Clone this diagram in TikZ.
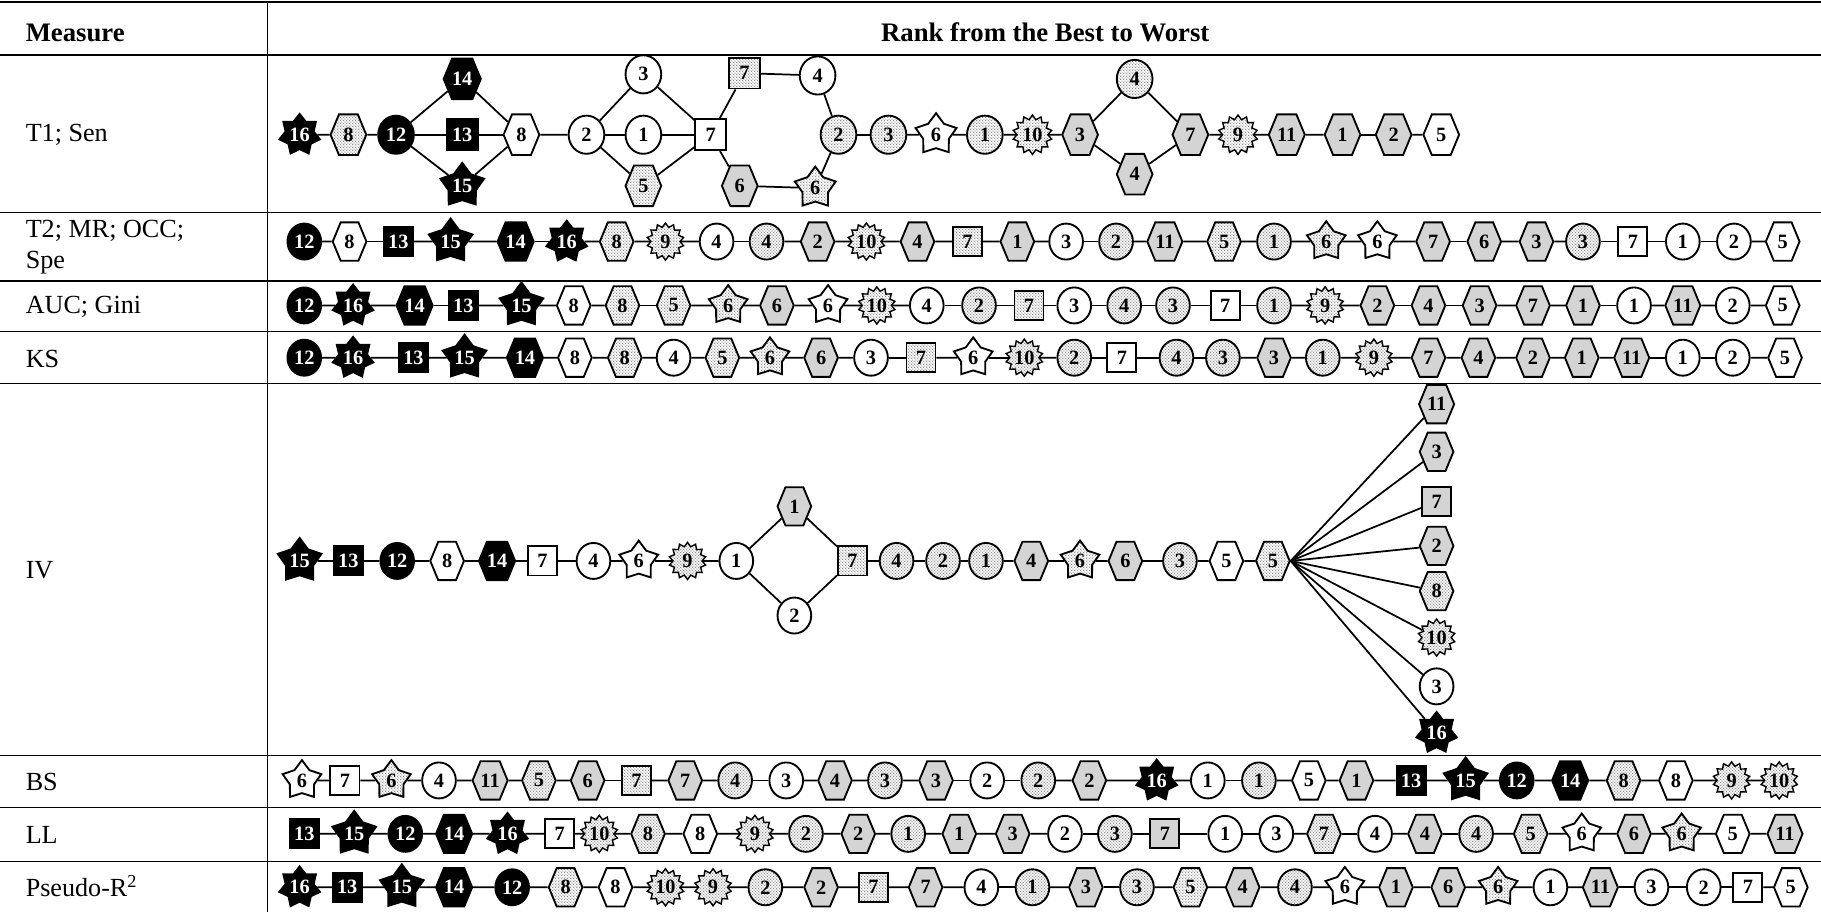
\documentclass[tikz,border=0pt]{standalone}
\usepackage{fontspec}
\setmainfont{Liberation Serif}
\usetikzlibrary{shapes.geometric,shapes.symbols,patterns.meta}

% fine stipple used for the dotted symbols
\tikzdeclarepattern{
  name=stipple,
  type=uncolored,
  bounding box={(0pt,0pt) and (2.4pt,2.4pt)},
  tile size={(2.4pt,2.4pt)},
  code={
    \fill (0.6pt,0.6pt) circle [radius=0.5pt];
    \fill (1.8pt,1.8pt) circle [radius=0.5pt];
  }
}

\def\shpk{1}
\tikzset{
  shp/.style={draw=black, line width=1.6pt, inner sep=0pt, font=\fontsize{17.5}{17.5}\selectfont\bfseries},
  fW/.style={fill=white},
  fG/.style={fill=black!17},
  fD/.style={preaction={fill=white}, pattern=stipple, pattern color=black!62},
  fB/.style={fill=black, text=white},
  circ/.style={shp, ellipse, minimum width=29pt*\shpk, minimum height=31pt*\shpk},
  hexa/.style={shp, signal, signal to=east and west, signal pointer angle=135,
               minimum width=29pt*\shpk, minimum height=33pt*\shpk},
  sqr/.style={shp, rectangle, minimum width=25pt*\shpk, minimum height=25pt*\shpk},
  pent/.style={shp, star, star points=5, star point ratio=1.6, minimum size=35pt*\shpk},
  sept/.style={shp, star, star points=7, star point ratio=1.45, minimum size=33pt*\shpk},
  burst/.style={shp, star, star points=14, star point ratio=1.28, minimum size=32pt*\shpk, line width=1.2pt},
  cW/.style={circ,fW}, cD/.style={circ,fD}, cB/.style={circ,fB},
  hW/.style={hexa,fW}, hD/.style={hexa,fD}, hG/.style={hexa,fG}, hB/.style={hexa,fB},
  sW/.style={sqr,fW}, sD/.style={sqr,fD}, sG/.style={sqr,fG}, sB/.style={sqr,fB},
  pW/.style={pent,fW}, pD/.style={pent,fD}, pB/.style={pent,fB},
  kB/.style={sept,fB}, zD/.style={burst,fD},
  link/.style={draw=black, line width=1.5pt},
  lbl/.style={font=\fontsize{22.5}{27}\selectfont, anchor=west, inner sep=0pt, align=left},
  hdr/.style={font=\fontsize{23}{27}\selectfont\bfseries, inner sep=0pt},
  tabrule/.style={line width=1.1pt},
}

% a straight ranking of 30 symbols, each joined to the next
\newcommand\chainrow[3]{%
  \foreach \qx/\qs/\ql [count=\qk] in {#3} {\node[\qs] (#1\qk) at (\qx,#2) {\ql};}
  \foreach \qk [evaluate=\qk as \qj using int(\qk-1)] in {2,...,30} {\draw[link] (#1\qj) -- (#1\qk);}
}

\begin{document}
\begin{tikzpicture}[x=1pt,y=-1pt]
\useasboundingbox (0,0) rectangle (1568,785);

% ---------- table frame ----------
\draw[line width=2pt] (0,2) -- (1568,2);
\draw[line width=1.3pt] (0,47.5) -- (1568,47.5);
\foreach \ry in {183,242,285.5,330.5,650.5,695.5,741.5}
  {\draw[tabrule] (0,\ry) -- (1568,\ry);}
\draw[line width=1pt] (230,2) -- (230,785);

% ---------- header and row labels ----------
\node[hdr, anchor=west] (hm) at (22,28) {Measure};
\node[hdr] (hr) at (900,28) {Rank from the Best to Worst};
\node[lbl] (l1) at (22,116) {T1; Sen};
\node[lbl] (l2) at (22,213) {T2; MR; OCC;\\Spe};
\node[lbl] (l3) at (22,264) {AUC; Gini};
\node[lbl] (l4) at (22,309) {KS};
\node[lbl] (l5) at (22,491) {IV};
\node[lbl] (l6) at (22,673) {BS};
\node[lbl] (l7) at (22,719) {LL};
\node[lbl] (l8) at (22,763) {Pseudo-R\textsuperscript{2}};

% ---------- T1; Sen ----------
\begin{scope}
\def\shpk{1.06}
\node[kB] (t16) at (258,116) {16};
\node[hD] (t8d) at (300,116) {8};
\node[cB] (t12) at (341,116) {12};
\node[hB] (t14) at (398,68) {14};
\node[sB] (t13) at (398,116) {13};
\node[pB] (t15) at (398,160) {15};
\node[hW] (t8w) at (449,116) {8};
\node[cW] (t2) at (505,116) {2};
\node[cW] (t3) at (554,64) {3};
\node[cW] (t1) at (554,116) {1};
\node[hD] (t5) at (554,160) {5};
\node[sW] (t7) at (612,116) {7};
\node[sD] (t7d) at (641,63) {7};
\node[cW] (t4) at (704,65) {4};
\node[hG] (t6g) at (637,160) {6};
\node[pD] (t6s) at (702,162) {6};
\node[cD] (t2d) at (722,116) {2};
\node[cD] (t3d) at (765,116) {3};
\node[pW] (t6w) at (806,116) {6};
\node[cD] (t1d) at (848,116) {1};
\node[zD] (t10) at (889,116) {10};
\node[hG] (t3g) at (930,116) {3};
\node[cD] (t4d) at (977,68) {4};
\node[hG] (t4g) at (977,150) {4};
\node[hG] (t7g) at (1025,116) {7};
\node[zD] (t9) at (1066,116) {9};
\node[hG] (t11) at (1108,116) {11};
\node[hG] (t1g) at (1156,116) {1};
\node[hG] (t2g) at (1200,116) {2};
\node[hW] (t5w) at (1241,116) {5};
\foreach \ua/\ub in {t16/t8d, t8d/t12, t12/t14, t12/t13, t12/t15, t14/t8w, t13/t8w, t15/t8w,
  t8w/t2, t2/t3, t2/t1, t2/t5, t3/t7, t1/t7, t5/t7, t7/t7d, t7/t6g, t7d/t4, t4/t2d,
  t6g/t6s, t6s/t2d, t2d/t3d, t3d/t6w, t6w/t1d, t1d/t10, t10/t3g, t3g/t4d, t3g/t4g,
  t4d/t7g, t4g/t7g, t7g/t9, t9/t11, t11/t1g, t1g/t2g, t2g/t5w}
  {\draw[link] (\ua) -- (\ub);}
\end{scope}

% ---------- T2; MR; OCC; Spe ----------
\chainrow{a}{208}{262/cB/12, 301/hW/8, 343/sB/13, 388/pB/15, 444/hB/14, 488/kB/16,
  531/hD/8, 573/zD/9, 617/cW/4, 660/cD/4, 704/hG/2, 746/zD/10, 790/hG/4, 833/sD/7,
  876/hG/1, 918/cW/3, 961/cD/2, 1003/hG/11, 1054/hD/5, 1097/cD/1, 1142/pD/6, 1186/pW/6,
  1234/hG/7, 1278/hG/6, 1323/hG/3, 1363/cD/3, 1406/sW/7, 1449/cW/1, 1493/cW/2, 1535/hW/5}

% ---------- AUC; Gini ----------
\chainrow{b}{263}{262/cB/12, 304/kB/16, 357/hB/14, 399/sB/13, 449/pB/15, 494/hW/8,
  536/hD/8, 580/hD/5, 627/pD/6, 669/hG/6, 713/pW/6, 755/zD/10, 798/cW/4, 843/cD/2,
  886/sD/7, 925/cW/3, 968/cD/4, 1010/cD/3, 1055/sW/7, 1097/cD/1, 1141/zD/9, 1186/hG/2,
  1230/hG/4, 1274/hG/3, 1320/hG/7, 1363/hG/1, 1407/cW/1, 1449/hG/11, 1492/cW/2, 1535/hW/5}

% ---------- KS ----------
\chainrow{c}{308}{262/cB/12, 304/kB/16, 356/sB/13, 400/pB/15, 452/hB/14, 495/hW/8,
  538/hD/8, 580/cW/4, 622/hD/5, 663/pD/6, 707/hG/6, 750/cW/3, 793/sD/7, 838/pW/6,
  882/zD/10, 925/cD/2, 966/sW/7, 1013/cD/4, 1053/cD/3, 1097/hG/3, 1139/cD/1, 1183/zD/9,
  1230/hG/7, 1273/hG/4, 1320/hG/2, 1362/hG/1, 1405/hG/11, 1449/cW/1, 1492/cW/2, 1537/hW/5}

% ---------- IV ----------
\foreach \qx/\qs/\ql [count=\qk] in {258/pB/15, 300/sB/13, 342/cB/12, 385/hW/8, 428/hB/14,
  467/sW/7, 511/cW/4, 550/pW/6, 592/zD/9, 634/cW/1}
  {\node[\qs] (v\qk) at (\qx,483) {\ql};}
\node[hG] (va) at (684,436) {1};
\node[cW] (vb) at (684,530) {2};
\foreach \qx/\qs/\ql [count=\qk from 11] in {734/sD/7, 772/cD/4, 812/cD/2, 849/cD/1,
  888/hG/4, 930/pD/6, 969/hG/6, 1016/cD/3, 1056/hW/5, 1096/hD/5}
  {\node[\qs] (v\qk) at (\qx,483) {\ql};}
\foreach \qy/\qs/\ql [count=\qk] in {348/hG/11, 389/hG/3, 432/sG/7, 470/hG/2, 509/hD/8,
  549/zD/10, 591/cW/3, 631/kB/16}
  {\node[\qs] (f\qk) at (1237,\qy) {\ql};}
\foreach \qk [evaluate=\qk as \qj using int(\qk-1)] in {2,...,10,12,13,...,20}
  {\draw[link] (v\qj) -- (v\qk);}
\draw[link] (v10) -- (va);
\draw[link] (v10) -- (vb);
\draw[link] (va) -- (v11);
\draw[link] (vb) -- (v11);
\foreach \qk in {1,...,8} {\draw[link] (v20.east) -- (f\qk);}

% ---------- BS ----------
\chainrow{d}{672}{260/pW/6, 297/sW/7, 337/pD/6, 378/cW/4, 422/hG/11, 464/hD/5, 506/hG/6,
  548/sD/7, 590/hG/7, 633/cD/4, 677/cW/3, 719/hG/4, 762/cD/3, 806/hG/3, 850/cW/2,
  894/cD/2, 938/hG/2, 996/kB/16, 1040/cW/1, 1084/cD/1, 1127/hW/5, 1168/hG/1, 1215/sB/13,
  1262/pB/15, 1306/cB/12, 1352/hB/14, 1398/hD/8, 1443/hW/8, 1491/zD/9, 1532/zD/10}

% ---------- LL ----------
\chainrow{e}{718}{262/sB/13, 305/pB/15, 349/cB/12, 391/hB/14, 437/kB/16, 482/sW/7,
  516/zD/10, 558/hD/8, 603/hW/8, 650/zD/9, 694/cD/2, 739/hG/2, 782/cD/1, 826/hG/1,
  872/hG/3, 917/cW/2, 960/cD/3, 1003/sG/7, 1055/cW/1, 1099/cW/3, 1140/hD/7, 1184/cW/4,
  1227/hG/4, 1271/cD/4, 1318/hD/5, 1362/pW/6, 1407/hG/6, 1448/pD/6, 1492/hW/5, 1537/hG/11}

% ---------- Pseudo-R2 ----------
\chainrow{g}{764}{258/kB/16, 299/sB/13, 346/pB/15, 391/hB/14, 441/cB/12, 487/hD/8,
  530/hW/8, 573/zD/10, 614/zD/9, 659/cD/2, 707/hG/2, 752/sD/7, 797/hG/7, 845/cW/4,
  889/cD/1, 935/hG/3, 979/cD/3, 1025/hD/5, 1070/hG/4, 1115/cD/4, 1158/pW/6, 1202/hG/1,
  1247/hG/6, 1290/pD/6, 1335/cW/1, 1378/hG/11, 1422/cW/3, 1467/cW/2, 1505/sW/7, 1542/hW/5}

\end{tikzpicture}
\end{document}
